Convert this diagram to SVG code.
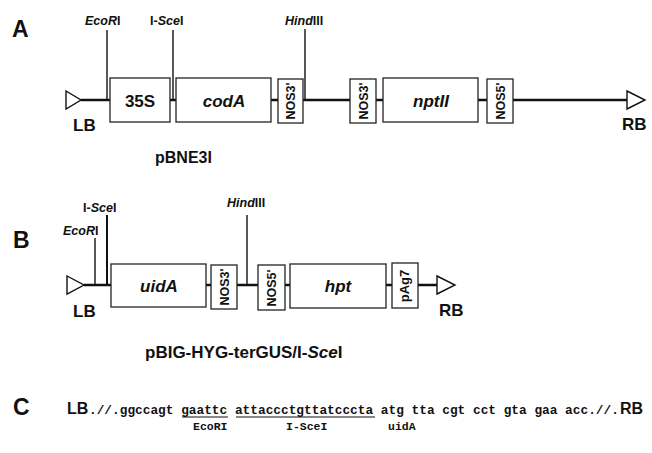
<svg xmlns="http://www.w3.org/2000/svg" width="652" height="453" viewBox="0 0 652 453">
<style>
.bg{fill:#fff}
.box{fill:#fff;stroke:#222;stroke-width:1.3}
.bb{stroke:#111;stroke-width:2.6;fill:none}
.site{stroke:#111;stroke-width:1.4}
.tri{fill:#fff;stroke:#111;stroke-width:1.4;stroke-linejoin:miter}
.sec{font-family:"Liberation Sans",Arial,sans-serif;font-weight:bold;font-size:23px;fill:#111}
.lbl{font-family:"Liberation Sans",Arial,sans-serif;font-weight:bold;font-size:17px;fill:#111}
.gene{font-family:"Liberation Sans",Arial,sans-serif;font-weight:bold;font-size:17px;fill:#111;text-anchor:middle}
.it{font-style:italic}
.rs{font-family:"Liberation Sans",Arial,sans-serif;font-weight:bold;font-size:12.5px;fill:#111}
.sm{font-family:"Liberation Sans",Arial,sans-serif;font-weight:bold;font-size:12.5px;fill:#111;text-anchor:middle}
.name{font-family:"Liberation Sans",Arial,sans-serif;font-weight:bold;font-size:16px;fill:#111}
.seq{font-family:"Liberation Mono","Courier New",monospace;font-weight:bold;font-size:12.8px;fill:#111}
.seqs{font-family:"Liberation Mono","Courier New",monospace;font-weight:bold;font-size:11.5px;fill:#111}
.ul{stroke:#111;stroke-width:1}
</style>
<rect class="bg" x="0" y="0" width="652" height="453"/>

<text class="sec" x="12" y="37">A</text>
<text class="sec" x="13" y="248">B</text>
<text class="sec" x="13" y="415">C</text>

<g id="connectors">
  <line class="bb" x1="81" y1="100" x2="627" y2="100"/>
  <line class="site" x1="107" y1="30" x2="107" y2="100"/>
  <line class="site" x1="173" y1="30" x2="173" y2="100"/>
  <line class="site" x1="305" y1="29" x2="305" y2="100"/>
  <line class="bb" x1="84" y1="285" x2="437" y2="285"/>
  <line class="site" x1="95" y1="238" x2="95" y2="285"/>
  <line class="site" x1="107" y1="215" x2="107" y2="285" style="stroke-width:2"/>
  <line class="site" x1="247" y1="215" x2="247" y2="285"/>
</g>

<g id="A-LB"><polygon class="tri" points="66,91 81,100 66,109"/><text class="lbl" x="73" y="131">LB</text></g>
<g id="A-RB"><polygon class="tri" points="627,91 645,100 627,109"/><text class="lbl" x="622" y="130">RB</text></g>
<g id="A-EcoRI"><text class="rs" x="85" y="25"><tspan class="it">EcoR</tspan>I</text></g>
<g id="A-IsceI"><text class="rs" x="150" y="25">I-<tspan class="it">Sce</tspan>I</text></g>
<g id="A-HindIII"><text class="rs" x="285" y="25"><tspan class="it">Hind</tspan>III</text></g>
<g id="A-35S"><rect class="box" x="110" y="78" width="60" height="44"/><text class="gene" x="140" y="107">35S</text></g>
<g id="A-codA"><rect class="box" x="176" y="78" width="95" height="44"/><text class="gene it" x="224" y="107">codA</text></g>
<g id="A-NOS3a"><rect class="box" x="278" y="79" width="25" height="44"/><text class="sm" transform="translate(295,101) rotate(-90)">NOS3'</text></g>
<g id="A-NOS3b"><rect class="box" x="350" y="79" width="26" height="44"/><text class="sm" transform="translate(368,101) rotate(-90)">NOS3'</text></g>
<g id="A-nptII"><rect class="box" x="383" y="78" width="95" height="44"/><text class="gene it" x="431" y="107">nptII</text></g>
<g id="A-NOS5"><rect class="box" x="487" y="79" width="26" height="44"/><text class="sm" transform="translate(505,101) rotate(-90)">NOS5'</text></g>
<g id="A-name"><text class="name" x="155" y="163">pBNE3I</text></g>

<g id="B-LB"><polygon class="tri" points="67,276 84,285 67,294"/><text class="lbl" x="73" y="317">LB</text></g>
<g id="B-RB"><polygon class="tri" points="437,276 455,285 437,294"/><text class="lbl" x="439" y="316">RB</text></g>
<g id="B-EcoRI"><text class="rs" x="63" y="235"><tspan class="it">EcoR</tspan>I</text></g>
<g id="B-IsceI"><text class="rs" x="83" y="212">I-<tspan class="it">Sce</tspan>I</text></g>
<g id="B-HindIII"><text class="rs" x="227" y="207"><tspan class="it">Hind</tspan>III</text></g>
<g id="B-uidA"><rect class="box" x="111" y="264" width="95" height="43"/><text class="gene it" x="159" y="292">uidA</text></g>
<g id="B-NOS3"><rect class="box" x="211" y="265" width="26" height="44"/><text class="sm" transform="translate(229,287) rotate(-90)">NOS3'</text></g>
<g id="B-NOS5"><rect class="box" x="258" y="265" width="27" height="45"/><text class="sm" transform="translate(276,288) rotate(-90)">NOS5'</text></g>
<g id="B-hpt"><rect class="box" x="290" y="264" width="96" height="44"/><text class="gene it" x="338" y="292">hpt</text></g>
<g id="B-pAg7"><rect class="box" x="392" y="263" width="26" height="45"/><text class="sm" style="font-size:13px" transform="translate(409,286) rotate(-90)">pAg7</text></g>
<g id="B-name"><text class="name" x="145" y="358" style="font-size:17px">pBIG-HYG-terGUS/I-<tspan class="it">Sce</tspan>I</text></g>

<g id="C-seq">
  <text class="lbl" x="67" y="414" style="font-size:16px">LB</text>
  <text class="seq" x="89" y="414" xml:space="preserve">.//.ggccagt gaattc attaccctgttatcccta atg tta cgt cct gta gaa acc.//.</text>
  <text class="lbl" x="620" y="414" style="font-size:16px">RB</text>
  <line class="ul" x1="182" y1="417" x2="228" y2="417"/>
  <line class="ul" x1="236" y1="417" x2="375" y2="417"/>
  <text class="seqs" x="193" y="430">EcoRI</text>
  <text class="seqs" x="286" y="430">I-SceI</text>
  <text class="seqs" x="388" y="430">uidA</text>
</g>
</svg>
